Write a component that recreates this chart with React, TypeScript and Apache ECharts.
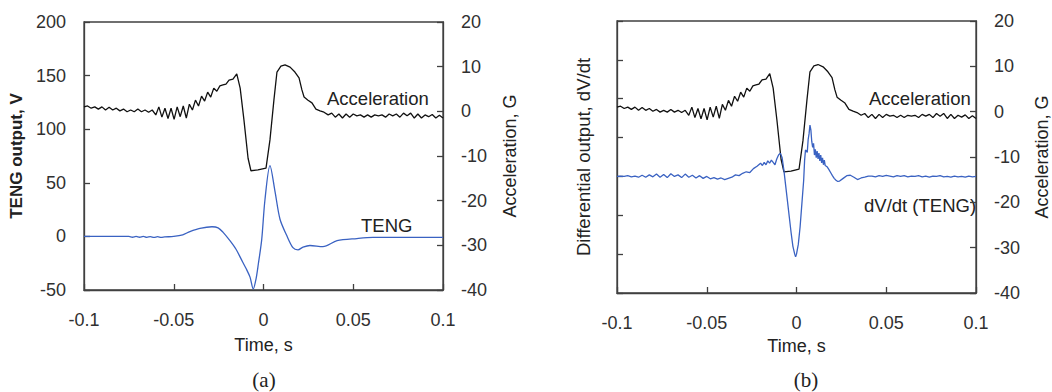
import React, { useEffect, useRef } from "react";
import * as echarts from "echarts";

// Acceleration (G), shared by both panels
const accTime = [
  -0.1, -0.098, -0.096, -0.094, -0.092, -0.09, -0.088, -0.086, -0.084, -0.082,
  -0.08, -0.078, -0.076, -0.074, -0.072, -0.07, -0.068, -0.066, -0.064,
  -0.062, -0.06, -0.0583, -0.0566, -0.0549, -0.0532, -0.0515, -0.0498, -0.0481,
  -0.0464, -0.0447, -0.043, -0.0413, -0.0396, -0.0379, -0.0362, -0.0345, -0.0328,
  -0.0311, -0.0294, -0.0277, -0.026, -0.0243, -0.0226, -0.0209, -0.0192, -0.017,
  -0.0149, -0.013, -0.0109, -0.0086, -0.007, -0.0031, 0.0014, 0.0036, 0.0058,
  0.0075, 0.0097, 0.012, 0.0148, 0.0175, 0.0198, 0.0214, 0.0226, 0.0248, 0.027,
  0.0292, 0.0315, 0.0337, 0.036, 0.038, 0.04, 0.042, 0.044, 0.046, 0.048, 0.05,
  0.052, 0.054, 0.056, 0.058, 0.06, 0.062, 0.064, 0.066, 0.068, 0.07, 0.072,
  0.074, 0.076, 0.078, 0.08, 0.082, 0.084, 0.086, 0.088, 0.09, 0.092, 0.094,
  0.096, 0.098, 0.1,
];
const accG = [
  1.0, 1.2, 0.7, 1.0, 0.5, 1.0, 0.3, 0.9, 0.3, 0.7,
  0.1, 0.5, -0.1, 0.3, -0.1, 0.5, -0.1, 0.3, -0.2,
  0.3, -0.8, 1.0, -1.3, 0.7, -1.6, 0.7, -1.8, 1.0,
  -1.2, 1.2, -1.5, 1.6, 0.3, 2.5, 1.2, 3.4, 2.3,
  4.3, 3.2, 5.2, 4.5, 5.7, 5.9, 6.1, 7.0, 7.2,
  8.4, 5.2, -1.9, -10.5, -13.3, -13.1, -12.7, -6.4, 2.5,
  8.8, 10.1, 10.4, 9.9, 8.8, 7.5, 4.8, 3.2, 2.5, 1.9,
  0.5, 0.1, -0.2, -0.8, -0.4, -1.3, -0.6, -1.5, -0.6, -1.3, -0.6,
  -1.0, -0.8, -1.3, -0.8, -1.3, -0.8, -1.0, -0.8, -1.3, -0.6, -1.0,
  -0.6, -1.3, -0.4, -1.0, -0.4, -1.5, -0.6, -1.5, -0.8, -1.2, -0.7,
  -1.5, -0.9, -1.5,
];

// TENG output (V), panel (a)
const tengTime = [
  -0.1, -0.08, -0.075, -0.073, -0.071, -0.069, -0.067, -0.065, -0.063, -0.061,
  -0.059, -0.057, -0.055, -0.05, -0.045, -0.041, -0.0354, -0.0287, -0.0253,
  -0.0226, -0.0187, -0.0153, -0.0125, -0.0097, -0.0075, -0.0057, -0.0042,
  -0.0029, -0.001, 0.0008, 0.0036, 0.0064, 0.0092, 0.0129, 0.0164, 0.0192,
  0.022, 0.0259, 0.0331, 0.041, 0.052, 0.061, 0.08, 0.1,
];
const tengV = [
  0, 0, 0, -0.8, 0, -0.8, 0, -0.9, -0.2, -1,
  -0.3, -1, -0.5, 0, 1.5, 4.5, 7.5, 9, 8,
  4, -4, -12, -21, -30, -38, -49, -40,
  -26, -3, 34, 66, 42, 16, 1, -10.5, -12.5,
  -10, -8.5, -9.5, -4, -2, -1, -1, -1,
];

// Differential output dV/dt (arbitrary units), panel (b)
const dvdtTime = [
  -0.1, -0.098, -0.096, -0.094, -0.092, -0.09, -0.088, -0.086, -0.084, -0.082,
  -0.08, -0.078, -0.076, -0.074, -0.072, -0.07, -0.068, -0.066, -0.064, -0.062,
  -0.06, -0.058, -0.056, -0.054, -0.052, -0.05, -0.048, -0.046, -0.044, -0.042,
  -0.04, -0.038, -0.036, -0.034, -0.032, -0.03, -0.028, -0.026, -0.024, -0.022,
  -0.02, -0.019, -0.018, -0.017, -0.016, -0.015, -0.014, -0.013, -0.012, -0.011,
  -0.01, -0.009, -0.008, -0.007, -0.006, -0.005, -0.004, -0.003, -0.002, -0.001,
  -0.0005, 0, 0.001, 0.002, 0.003, 0.004, 0.0045, 0.005, 0.006, 0.0065, 0.007,
  0.0075, 0.008, 0.0085, 0.009, 0.0095, 0.01, 0.0105, 0.011, 0.0115, 0.012,
  0.0125, 0.013, 0.0135, 0.014, 0.0145, 0.015, 0.0155, 0.016, 0.017, 0.018,
  0.019, 0.02, 0.021, 0.022, 0.023, 0.024, 0.026, 0.028, 0.03, 0.032, 0.034,
  0.036, 0.038, 0.04, 0.042, 0.044, 0.046, 0.048, 0.05, 0.052, 0.054, 0.056,
  0.058, 0.06, 0.062, 0.064, 0.066, 0.068, 0.07, 0.072, 0.074, 0.076, 0.078,
  0.08, 0.082, 0.084, 0.086, 0.088, 0.09, 0.092, 0.094, 0.096, 0.098, 0.1,
];
const dvdtV = [
  0.0, 0.01, 0.0, 0.02, -0.01, 0.01, -0.02, 0.03, -0.02, 0.04,
  -0.01, 0.06, -0.02, 0.05, -0.03, 0.07, 0.0, 0.04, -0.03, 0.06,
  -0.02, 0.03, -0.04, 0.02, -0.05, 0.0, -0.06, -0.03, -0.07, -0.04,
  -0.08, -0.05, -0.02, 0.04, 0.02, 0.08, 0.12, 0.1, 0.2, 0.26,
  0.34, 0.28, 0.36, 0.3, 0.4, 0.34, 0.42, 0.36, 0.3, 0.45,
  0.55, 0.6, 0.48, 0.15, -0.25, -0.65, -1.05, -1.45, -1.8, -2.0,
  -2.07, -2.0, -1.75, -1.3, -0.7, -0.1, 0.4, 0.68, 0.62, 0.95, 1.1,
  1.32, 1.2, 0.9, 0.75, 0.85, 0.55, 0.7, 0.48, 0.65, 0.45,
  0.6, 0.4, 0.55, 0.35, 0.48, 0.3, 0.42, 0.28, 0.25, 0.18,
  0.1, 0.02, -0.05, -0.1, -0.13, -0.12, -0.05, 0.02, 0.03, -0.02, -0.08,
  -0.04, -0.02, 0.01, 0.01, -0.01, 0.02, 0.0, 0.03, 0.01, -0.01, 0.02,
  0.0, 0.02, -0.01, 0.01, 0.0, 0.02, -0.01, 0.01, -0.02, 0.01, 0.0,
  0.02, -0.01, 0.0, -0.02, 0.01, -0.01, 0.0, -0.02, 0.01, -0.01, 0.0,
];

const zip = (t: number[], v: number[]) => t.map((x, i) => [x, v[i]]);

export default function App() {
  const ref = useRef<HTMLDivElement>(null);
  useEffect(() => {
    const chart = echarts.init(ref.current!, null, { renderer: "svg" });
    const font = "Liberation Sans";
    const axColor = "#404040";
    const axisLine = { show: true, onZero: false, lineStyle: { color: axColor, width: 1.3 } };
    const tick = { show: true, inside: true, length: 6, lineStyle: { color: axColor, width: 1.3 } };
    const lbl = { color: "#303030", fontSize: 18, fontFamily: font };
    const nameStyle = { color: "#222", fontSize: 18, fontFamily: font };
    const fmtX = (v: number) => String(Math.round(v * 100) / 100);
    const annot = (text: string, x: number, y: number) => ({
      type: "text",
      x,
      y,
      style: { text, fill: "#222", fontSize: 18.5, fontFamily: font, align: "left", verticalAlign: "middle" },
    });
    chart.setOption({
      animation: false,
      grid: [
        { left: 84, top: 22, width: 359, height: 268, show: true, borderColor: axColor, borderWidth: 1.3 },
        { left: 617, top: 21, width: 363, height: 272, show: true, borderColor: axColor, borderWidth: 1.3 },
      ],
      xAxis: [0, 1].map((i) => ({
        type: "value",
        gridIndex: i,
        min: -0.1,
        max: 0.1,
        interval: 0.05,
        name: "Time, s",
        nameLocation: "middle",
        nameGap: i === 0 ? 46 : 43,
        nameTextStyle: nameStyle,
        axisLine,
        axisTick: tick,
        axisLabel: { ...lbl, margin: 21, formatter: fmtX },
        splitLine: { show: false },
      })),
      yAxis: [
        {
          type: "value", gridIndex: 0, position: "left", min: -50, max: 200, interval: 50,
          name: "TENG output, V", nameLocation: "middle", nameGap: 59,
          nameTextStyle: { ...nameStyle, fontSize: 17, fontWeight: "bold" },
          axisLine, axisTick: tick, axisLabel: { ...lbl, margin: 18 }, splitLine: { show: false },
        },
        {
          type: "value", gridIndex: 0, position: "right", min: -40, max: 20, interval: 10,
          name: "Acceleration, G", nameLocation: "middle", nameGap: 58, nameTextStyle: nameStyle,
          axisLine, axisTick: tick, axisLabel: { ...lbl, margin: 18 }, splitLine: { show: false },
        },
        {
          type: "value", gridIndex: 1, position: "left", min: -3, max: 4, interval: 1,
          name: "Differential output, dV/dt", nameLocation: "middle", nameGap: 24,
          nameTextStyle: { ...nameStyle, fontSize: 18.5 },
          axisLine, axisTick: tick, axisLabel: { show: false }, splitLine: { show: false },
        },
        {
          type: "value", gridIndex: 1, position: "right", min: -40, max: 20, interval: 10,
          name: "Acceleration, G", nameLocation: "middle", nameGap: 57, nameTextStyle: nameStyle,
          axisLine, axisTick: tick, axisLabel: { ...lbl, margin: 18 }, splitLine: { show: false },
        },
      ],
      series: [
        {
          type: "line", xAxisIndex: 0, yAxisIndex: 1, data: zip(accTime, accG),
          showSymbol: false, lineStyle: { color: "#111", width: 1.3 }, itemStyle: { color: "#111" },
        },
        {
          type: "line", xAxisIndex: 0, yAxisIndex: 0, data: zip(tengTime, tengV), smooth: 0.3,
          showSymbol: false, lineStyle: { color: "#3a62c2", width: 1.3 }, itemStyle: { color: "#3a62c2" },
        },
        {
          type: "line", xAxisIndex: 1, yAxisIndex: 3, data: zip(accTime, accG),
          showSymbol: false, lineStyle: { color: "#111", width: 1.3 }, itemStyle: { color: "#111" },
        },
        {
          type: "line", xAxisIndex: 1, yAxisIndex: 2, data: zip(dvdtTime, dvdtV),
          showSymbol: false, lineStyle: { color: "#3a62c2", width: 1.3 }, itemStyle: { color: "#3a62c2" },
        },
      ],
      graphic: [
        annot("Acceleration", 327, 98),
        annot("TENG", 361, 225),
        annot("Acceleration", 869, 98),
        annot("dV/dt (TENG)", 864, 205),
        {
          type: "text", x: 264, y: 380,
          style: { text: "(a)", fill: "#222", fontSize: 21, fontFamily: "Liberation Serif", align: "center", verticalAlign: "middle" },
        },
        {
          type: "text", x: 806, y: 380,
          style: { text: "(b)", fill: "#222", fontSize: 21, fontFamily: "Liberation Serif", align: "center", verticalAlign: "middle" },
        },
      ],
    });
    return () => chart.dispose();
  }, []);
  return (
    <div
      ref={ref}
      style={{ position: "fixed", left: 0, top: 0, width: 1052, height: 392, background: "#fff" }}
    />
  );
}
